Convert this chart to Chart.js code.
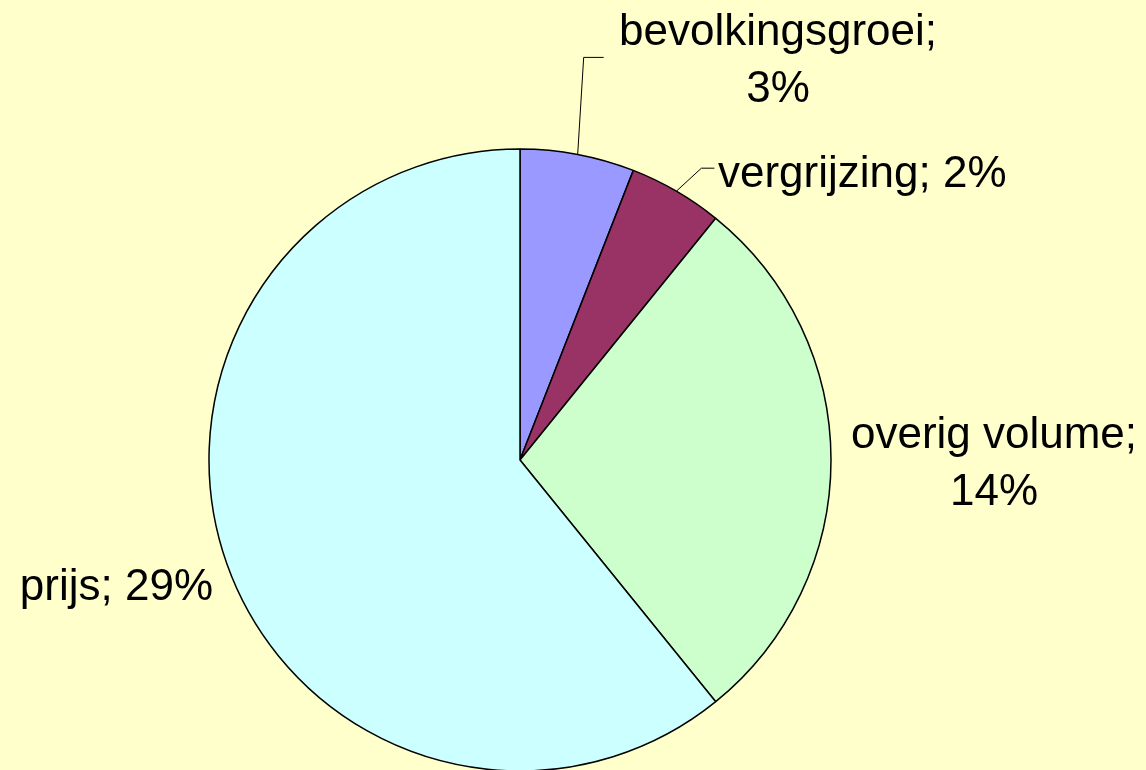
<!DOCTYPE html>
<html>
<head>
<meta charset="utf-8">
<script src="https://cdn.jsdelivr.net/npm/chart.js@4/dist/chart.umd.min.js"></script>
<style>
  html, body { margin:0; padding:0; background:#FFFFCC; }
  #wrap { width:1146px; height:770px; position:relative; }
</style>
</head>
<body>
<div id="wrap"><canvas id="pie"></canvas></div>
<script>
// data (slice sizes estimated from the angles, labels show rounded %)
const labels = ["bevolkingsgroei", "vergrijzing", "overig volume", "prijs"];
const values = [2.85, 2.35, 13.6, 29.2];
const colors = ["#9999FF", "#993366", "#CCFFCC", "#CCFFFF"];

// where each label sits, relative to pie centre (dx, dy in px), plus optional leader bend
const labelSpots = [
    { twoLine: true, dx: 258, dy: -415, align: 'center', bend: [6, -97], tail: 20 },
    { twoLine: false, dx: 198, dy: -273, align: 'left', bend: [25, -23], tail: 13 },
    { twoLine: true, dx: 474, dy: -12, align: 'center' },
    { twoLine: false, dx: -307, dy: 140, align: 'right' }
];

const pieLabels = {
    id: 'pieLabels',
    afterDatasetsDraw(chart) {
        const ctx = chart.ctx;
        const arcs = chart.getDatasetMeta(0).data;
        ctx.save();
        ctx.font = '44px "Liberation Sans", Arial, sans-serif';
        ctx.fillStyle = '#000';
        ctx.textBaseline = 'alphabetic';
        arcs.forEach((arc, i) => {
            const s = labelSpots[i];
            const cx = arc.x, cy = arc.y;
            if (s.bend) {
                const mid = (arc.startAngle + arc.endAngle) / 2;
                const ex = cx + Math.cos(mid) * arc.outerRadius;
                const ey = cy + Math.sin(mid) * arc.outerRadius;
                const bx = ex + s.bend[0], by = ey + s.bend[1];
                ctx.strokeStyle = '#000';
                ctx.lineWidth = 1;
                ctx.beginPath();
                ctx.moveTo(ex, ey);
                ctx.lineTo(bx, by);
                ctx.lineTo(bx + s.tail, by);
                ctx.stroke();
            }
            const pct = Math.round(values[i]) + '%';
            const lines = s.twoLine ? [labels[i] + ';', pct] : [labels[i] + '; ' + pct];
            ctx.textAlign = s.align;
            lines.forEach((ln, k) => {
                ctx.fillText(ln, cx + s.dx, cy + s.dy + k * 57);
            });
        });
        ctx.restore();
    }
};

new Chart(document.getElementById('pie'), {
    type: 'pie',
    data: {
        labels: labels,
        datasets: [{
            data: values,
            backgroundColor: colors,
            borderColor: '#000',
            borderWidth: 1.5,
            borderAlign: 'center',
            hoverOffset: 0,
            offset: 0
        }]
    },
    options: {
        responsive: true,
        maintainAspectRatio: false,
        animation: false,
        radius: 311,
        layout: { padding: { left: 100, right: 206, top: 150, bottom: 0 } },
        plugins: {
            legend: { display: false },
            tooltip: { enabled: false }
        }
    },
    plugins: [pieLabels]
});
</script>
</body>
</html>
